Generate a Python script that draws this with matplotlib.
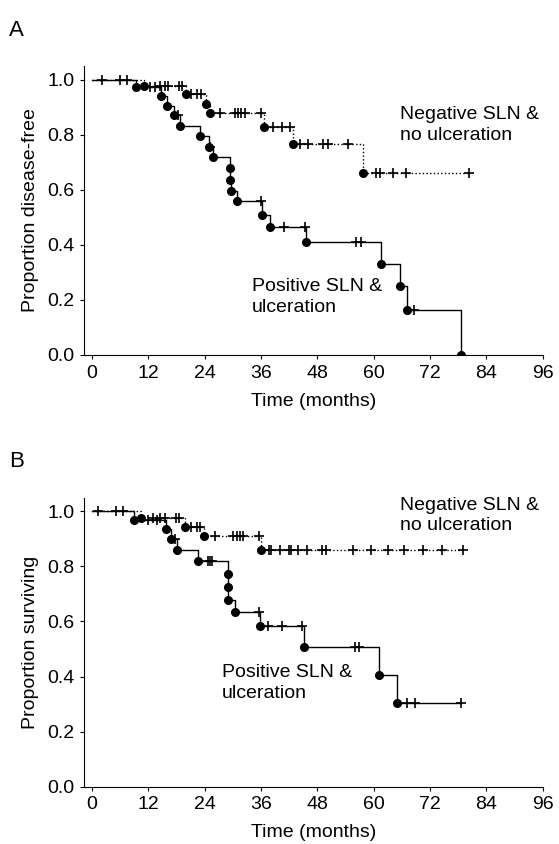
import numpy as np
import matplotlib
matplotlib.use('Agg')
import matplotlib.pyplot as plt

plt.rcParams['font.family'] = ['Liberation Sans', 'DejaVu Sans']

# ---- panel A: disease-free ----
a_pos_t = [9.5, 14.7, 16.1, 17.4, 18.7, 23.1, 24.9, 25.8, 29.5, 29.5, 29.6, 31.0,
           36.2, 38.0, 45.6, 61.5, 65.5, 67.0, 78.5]
a_pos_s = [0.974, 0.94, 0.905, 0.872, 0.833, 0.797, 0.757, 0.721, 0.679, 0.637, 0.597,
           0.558, 0.51, 0.466, 0.41, 0.332, 0.252, 0.165, 0.0]
a_pos_cens = [12.3, 13.4, 18.3, 25.2, 36.0, 40.9, 45.4, 56.3, 57.2, 68.5]
a_pos_end = 78.5

a_neg_t = [11.1, 20.1, 24.4, 25.2, 36.6, 42.8, 57.7]
a_neg_s = [0.979, 0.947, 0.913, 0.88, 0.829, 0.766, 0.66]
a_neg_cens = [2.1, 6.0, 7.4, 14.5, 15.5, 16.2, 18.5, 19.1, 21.2, 22.3, 23.3, 27.2,
              30.4, 31.1, 31.8, 32.6, 36.1, 38.6, 40.4, 42.1, 44.3, 46.0, 49.2, 50.3,
              54.5, 60.6, 61.3, 64.1, 66.8, 80.3]
a_neg_end = 80.3

# ---- panel B: survival ----
b_pos_t = [8.9, 15.7, 16.9, 18.2, 22.6, 29.0, 29.0, 29.0, 30.4, 35.8, 45.1, 61.1, 65.0]
b_pos_s = [0.97, 0.936, 0.899, 0.86, 0.82, 0.773, 0.727, 0.679, 0.633, 0.582, 0.507,
           0.406, 0.305]
b_pos_cens = [12.0, 13.8, 17.7, 24.8, 25.2, 25.6, 35.5, 37.5, 40.4, 44.8, 56.0, 56.9,
              67.1, 68.7, 78.5]
b_pos_end = 78.5

b_neg_t = [10.4, 19.8, 23.9, 36.0]
b_neg_s = [0.976, 0.945, 0.912, 0.86]
b_neg_cens = [1.3, 5.2, 6.7, 13.0, 14.5, 15.5, 18.0, 18.6, 21.2, 22.3, 23.0, 26.2,
              30.1, 30.8, 31.5, 32.2, 35.6, 37.7, 38.2, 40.1, 42.0, 42.5, 43.9, 45.7,
              49.1, 49.8, 55.5, 59.5, 63.0, 66.5, 70.5, 74.5, 79.0]
b_neg_end = 79.0

xticks = [0, 12, 24, 36, 48, 60, 72, 84, 96]
yticks = [0.0, 0.2, 0.4, 0.6, 0.8, 1.0]


def km_curve(ax, times, surv, cens, t_end, ls, lw):
    times = np.asarray(times)
    surv = np.asarray(surv)
    xs = np.concatenate([[0], times, [t_end]])
    ys = np.concatenate([[1.0], surv, [surv[-1]]])
    ax.step(xs, ys, where='post', color='black', ls=ls, lw=lw)
    ax.plot(times, surv, 'o', color='black', ms=5.5)
    idx = np.searchsorted(times, cens, side='right')
    cy = np.concatenate([[1.0], surv])[idx]
    ax.plot(cens, cy, '+', color='black', ms=7, mew=1.2)


def style_axes(ax, ylabel):
    ax.set_xlim(-1.7, 96)
    ax.set_ylim(0, 1.05)
    ax.set_xticks(xticks)
    ax.set_yticks(yticks)
    ax.set_yticklabels(['%.1f' % v for v in yticks])
    ax.spines['top'].set_visible(False)
    ax.spines['right'].set_visible(False)
    ax.tick_params(labelsize=14, length=3, width=0.8, pad=4)
    ax.set_xlabel('Time (months)', fontsize=14, labelpad=8)
    ax.set_ylabel(ylabel, fontsize=14, labelpad=6)


fig = plt.figure(figsize=(5.59, 8.44), dpi=100)
ax1 = fig.add_axes([0.150, 0.5794, 0.821, 0.3424])
ax2 = fig.add_axes([0.150, 0.068, 0.821, 0.3424])

km_curve(ax1, a_neg_t, a_neg_s, a_neg_cens, a_neg_end, ':', 1.0)
km_curve(ax1, a_pos_t, a_pos_s, a_pos_cens, a_pos_end, '-', 1.0)
style_axes(ax1, 'Proportion disease-free')
ax1.text(65.5, 0.835, 'Negative SLN &\nno ulceration', fontsize=14, va='center', linespacing=1.3)
ax1.text(34, 0.21, 'Positive SLN &\nulceration', fontsize=14, va='center', linespacing=1.3)

km_curve(ax2, b_neg_t, b_neg_s, b_neg_cens, b_neg_end, ':', 1.0)
km_curve(ax2, b_pos_t, b_pos_s, b_pos_cens, b_pos_end, '-', 1.0)
style_axes(ax2, 'Proportion surviving')
ax2.text(65.5, 0.985, 'Negative SLN &\nno ulceration', fontsize=14, va='center', linespacing=1.3)
ax2.text(27.7, 0.378, 'Positive SLN &\nulceration', fontsize=14, va='center', linespacing=1.3)

fig.text(0.016, 0.957, 'A', fontsize=16)
fig.text(0.016, 0.447, 'B', fontsize=16)

fig.savefig('out.png', dpi=100)
